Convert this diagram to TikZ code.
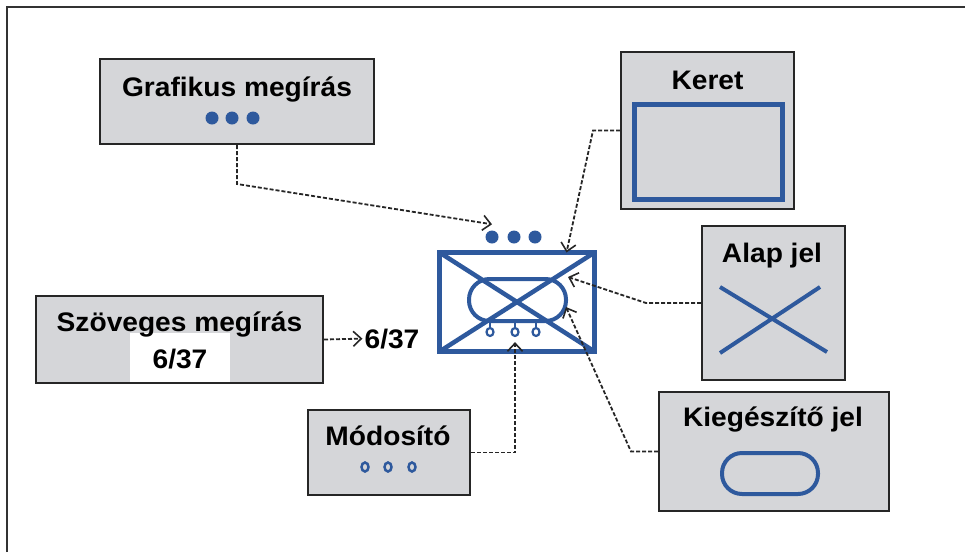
\documentclass[tikz,border=0pt]{standalone}
\usepackage{fontspec}
\setmainfont{Liberation Sans}[FakeStretch=1.05]
\usepackage{xcolor}
\usetikzlibrary{arrows.meta}
\usetikzlibrary{shapes.geometric}

\definecolor{symblue}{RGB}{46,89,157}
\definecolor{panelgray}{RGB}{213,214,217}

\tikzset{
  panel/.style={draw=black!85,fill=panelgray,line width=2pt,inner sep=0pt},
  title/.style={font=\bfseries\fontsize{26.8}{28}\selectfont,anchor=base,inner sep=0pt},
  link/.style={draw=black!85,line width=1.8pt,dash pattern=on 4pt off 2pt,
    -{Straight Barb[length=8pt,width=15pt,line width=1.6pt]}},
  symline/.style={draw=symblue,line width=5pt},
  bigdot/.style={circle,fill=symblue,minimum size=13pt,inner sep=0pt},
  ring/.style={ellipse,draw=symblue,line width=2.5pt,minimum width=7pt,minimum height=9pt,inner sep=0pt}
}

\begin{document}
\begin{tikzpicture}[x=1pt,y=-1pt]
\useasboundingbox (0,0) rectangle (965,552);
\draw[black!80,line width=2.5pt] (7,552) -- (7,7) -- (965,7);

% panels
\node[panel,minimum width=274pt,minimum height=85pt] (graf) at (237,101.5) {};
\node[title] (graf-t) at (237,96) {Grafikus megírás};
\foreach \x/\n in {212/1,232/2,253/3}
  \node[bigdot] (gd\n) at (\x,118) {};

\node[panel,minimum width=173pt,minimum height=157pt] (keret) at (707.5,130.5) {};
\node[title] (keret-t) at (707.5,89) {Keret};
\draw[symline] (634.5,104.5) rectangle (782.5,199.5);

\node[panel,minimum width=143pt,minimum height=154pt] (alap) at (773.5,303) {};
\node[title] (alap-t) at (772,262) {Alap jel};
\draw[symline,line width=4pt] (720,287) -- (827,352) (820,287) -- (720,353);

\node[panel,minimum width=230pt,minimum height=119pt] (kieg) at (774,451.5) {};
\node[title] (kieg-t) at (773,426) {Kiegészítő jel};
\draw[symline,line width=4pt,rounded corners=20pt] (722,453) rectangle (818,494);

\node[panel,minimum width=287pt,minimum height=87pt] (szov) at (179.5,339.5) {};
\fill[white] (130,333) rectangle (230,382);
\node[title] (szov-t) at (179.5,331) {Szöveges megírás};
\node[title] (szov-n) at (180,368) {6/37};

\node[panel,minimum width=162pt,minimum height=85pt] (mod) at (389,452.5) {};
\node[title] (mod-t) at (388,445) {Módosító};
\foreach \x/\n in {365/1,388/2,412/3}
  \node[ring] (md\n) at (\x,467) {};

% main symbol
\node[symline,minimum width=155pt,minimum height=99pt,inner sep=0pt,outer sep=0pt] (sym) at (517,302) {};
\draw[symline,line width=4.5pt] (sym.north west) -- (sym.south east)
  (sym.north east) -- (sym.south west);
\node[draw=symblue,line width=4pt,rounded corners=20.5pt,minimum width=97pt,
  minimum height=42pt,inner sep=0pt,outer sep=0pt] (oval) at (517.5,300) {};
\foreach \x/\n in {490/1,515/2,536/3}{
  \node[ring,line width=2.2pt,minimum width=7pt,minimum height=8pt] (r\n) at (\x,332) {};
  \draw[symblue,line width=2.2pt] (r\n.north) -- (r\n.north |- oval.south);
}
\foreach \x/\n in {492/1,514/2,535/3}
  \node[bigdot] (d\n) at (\x,237) {};
\node[title] (num) at (392,348) {6/37};

% connectors
\coordinate (atip) at ([shift={(-26.5pt,-24.5pt)}]sym.north east);
\draw[link] (graf.south) -- ++(0,39) -- ([yshift=6pt]d1.north);
\draw[link] (keret.west) -- ++(-27,0) -- ([xshift=-28pt]sym.north east);
\draw[link] (alap.west) -- ++(-55,0) -- (atip);
\draw[link] (kieg.west) -- ++(-27,0) -- ([yshift=-7pt]oval.east);
\draw[link] (mod.east) -| ([yshift=-5pt]r2.south);
\draw[link,shorten >=2pt] (szov.east) -- (num.west);
\end{tikzpicture}
\end{document}
